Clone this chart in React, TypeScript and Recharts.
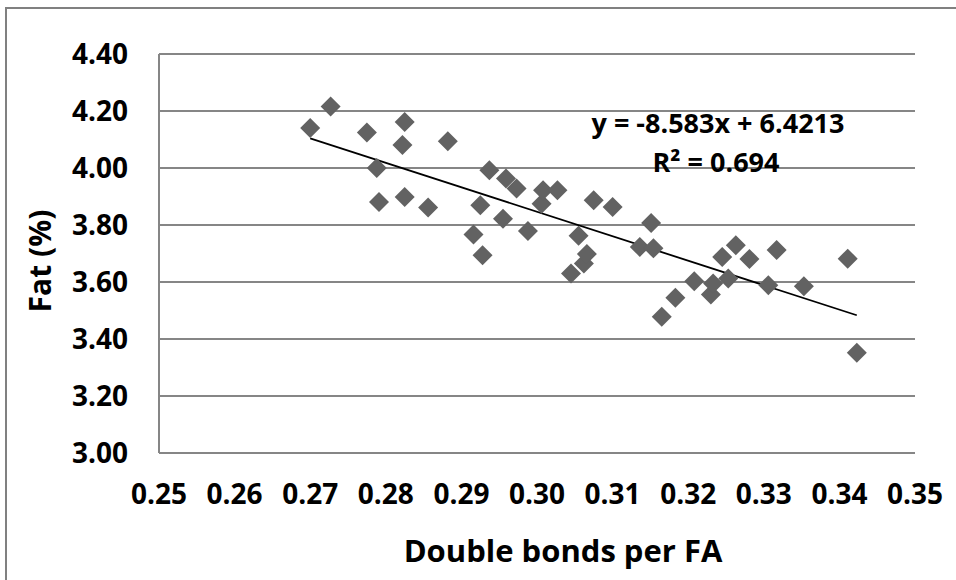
import React from 'react';
import { ScatterChart, Scatter, XAxis, YAxis, CartesianGrid, ReferenceLine } from 'recharts';

const doubleBonds: number[] = [
  0.2700, 0.2727, 0.2775, 0.2788, 0.2791, 0.2822, 0.2825, 0.2825, 0.2856, 0.2882,
  0.2916, 0.2925, 0.2928, 0.2937, 0.2955, 0.2959, 0.2973, 0.2988, 0.3006, 0.3008,
  0.3027, 0.3045, 0.3055, 0.3062, 0.3066, 0.3075, 0.3100, 0.3136, 0.3151, 0.3154,
  0.3165, 0.3183, 0.3208, 0.3230, 0.3233, 0.3245, 0.3253, 0.3263, 0.3281, 0.3306,
  0.3317, 0.3353, 0.3411, 0.3423,
];
const fatPct: number[] = [
  4.140, 4.216, 4.125, 4.000, 3.881, 4.081, 4.161, 3.898, 3.861, 4.094,
  3.767, 3.869, 3.694, 3.992, 3.822, 3.963, 3.928, 3.779, 3.875, 3.922,
  3.922, 3.630, 3.762, 3.665, 3.698, 3.887, 3.863, 3.723, 3.807, 3.718,
  3.478, 3.545, 3.603, 3.556, 3.595, 3.688, 3.612, 3.729, 3.681, 3.589,
  3.712, 3.585, 3.682, 3.352,
];
const xTicks: number[] = [0.25, 0.26, 0.27, 0.28, 0.29, 0.3, 0.31, 0.32, 0.33, 0.34, 0.35];
const yTicks: number[] = [3.0, 3.2, 3.4, 3.6, 3.8, 4.0, 4.2, 4.4];
const trendSlope = -8.583;
const trendIntercept = 6.4213;
const equationText = 'y = -8.583x + 6.4213';
const r2Text = 'R² = 0.694';

const points = doubleBonds.map((x, i) => ({ x, y: fatPct[i] }));
const xMin = Math.min(...doubleBonds);
const xMax = Math.max(...doubleBonds);
const trendSegment = [
  { x: xMin, y: trendSlope * xMin + trendIntercept },
  { x: xMax, y: trendSlope * xMax + trendIntercept },
];

const FONT = "'Open Sans', 'Noto Sans', sans-serif";
const tickStyle = { fontFamily: FONT, fontWeight: 700, fontSize: 28, fill: '#000' };

const Diamond = (props: any) => {
  const { cx, cy } = props;
  if (cx == null || cy == null) return null;
  const r = 10;
  return (
    <polygon
      points={`${cx},${cy - r} ${cx + r},${cy} ${cx},${cy + r} ${cx - r},${cy}`}
      fill="#626262"
    />
  );
};

export default function App() {
  return (
    <div style={{ position: 'absolute', left: 0, top: 0, width: 956, height: 580, overflow: 'hidden', background: '#fff' }}>
      <div
        style={{
          position: 'absolute', left: 5, top: 7, width: 1000, height: 700,
          border: '2px solid #808080', boxSizing: 'border-box',
        }}
      />
      <ScatterChart width={956} height={580} margin={{ top: 54, right: 41, left: 0, bottom: 0 }}>
        <CartesianGrid horizontal vertical={false} stroke="#868686" strokeWidth={2} />
        <XAxis
          type="number"
          dataKey="x"
          domain={[0.25, 0.35]}
          ticks={xTicks}
          tickFormatter={(v: number) => v.toFixed(2)}
          height={127}
          tickLine={false}
          tickSize={0}
          tickMargin={31}
          axisLine={{ stroke: '#868686', strokeWidth: 2 }}
          tick={tickStyle}
          interval={0}
        />
        <YAxis
          type="number"
          dataKey="y"
          domain={[3.0, 4.4]}
          ticks={yTicks}
          tickFormatter={(v: number) => v.toFixed(2)}
          width={159}
          tickLine={false}
          tickSize={0}
          tickMargin={31}
          axisLine={{ stroke: '#868686', strokeWidth: 2 }}
          tick={tickStyle}
          interval={0}
        />
        <Scatter data={points} shape={Diamond} isAnimationActive={false} />
        <ReferenceLine segment={trendSegment} stroke="#000" strokeWidth={1.8} ifOverflow="visible" />
      </ScatterChart>
      <svg width={956} height={580} style={{ position: 'absolute', left: 0, top: 0, pointerEvents: 'none' }}>
        <text x={718} y={133} textAnchor="middle" style={{ fontFamily: FONT, fontWeight: 700, fontSize: 27 }} fill="#000">
          {equationText}
        </text>
        <text x={716} y={172} textAnchor="middle" style={{ fontFamily: FONT, fontWeight: 700, fontSize: 27 }} fill="#000">
          {r2Text}
        </text>
        <text x={563} y={562} textAnchor="middle" style={{ fontFamily: FONT, fontWeight: 700, fontSize: 31 }} fill="#000">
          Double bonds per FA
        </text>
        <text
          x={39}
          y={261}
          textAnchor="middle"
          dominantBaseline="central"
          transform="rotate(-90, 39, 261)"
          style={{ fontFamily: FONT, fontWeight: 700, fontSize: 30 }}
          fill="#000"
        >
          Fat (%)
        </text>
      </svg>
    </div>
  );
}
